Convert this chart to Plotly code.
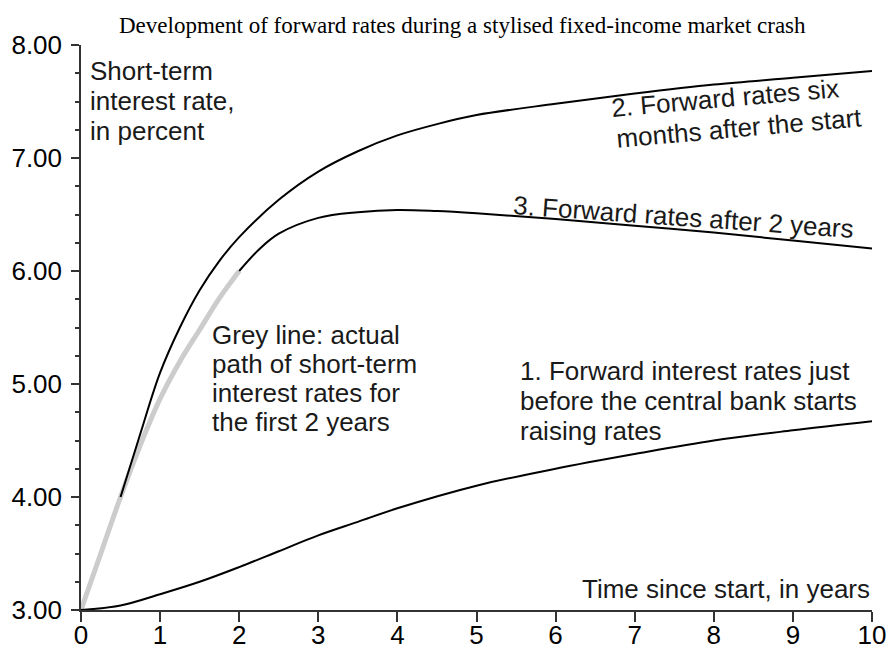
import plotly.graph_objects as go

# Curve 1: forward rates just before the central bank starts raising rates
x1 = [0, 0.5, 1, 1.5, 2, 2.5, 3, 3.5, 4, 5, 6, 7, 8, 9, 10]
y1 = [3.00, 3.04, 3.14, 3.25, 3.38, 3.52, 3.66, 3.78, 3.90, 4.10, 4.25, 4.38, 4.50, 4.59, 4.67]

# Curve 2: forward rates six months after the start
x2 = [0.5, 0.75, 1, 1.25, 1.5, 1.75, 2, 2.5, 3, 3.5, 4, 4.5, 5, 6, 7, 8, 9, 10]
y2 = [4.00, 4.56, 5.10, 5.50, 5.83, 6.09, 6.30, 6.63, 6.88, 7.06, 7.20, 7.30, 7.38, 7.48, 7.57, 7.65, 7.71, 7.77]

# Curve 3: forward rates after 2 years
x3 = [2, 2.25, 2.5, 3, 3.5, 4, 4.5, 5, 6, 7, 8, 9, 10]
y3 = [6.00, 6.19, 6.33, 6.47, 6.52, 6.54, 6.53, 6.51, 6.46, 6.40, 6.34, 6.27, 6.20]

# Grey line: actual short-term rate path for first 2 years
xg = [0, 0.25, 0.5, 0.75, 1, 1.25, 1.5, 1.75, 2]
yg = [3.00, 3.50, 4.00, 4.46, 4.87, 5.20, 5.48, 5.76, 6.00]

x_ticks = list(range(0, 11))
y_ticks = [3, 4, 5, 6, 7, 8]

FONT = "Liberation Sans, Arial, Helvetica, sans-serif"
TXT = "#1a1a1a"
FS = 26

W, H = 888, 652
ML, MR, MT, MB = 81, 16, 45, 42
XR, YR = (0, 10), (3, 8)


def xd(px):
    return XR[0] + (px - ML) / (W - ML - MR) * (XR[1] - XR[0])


def yd(py):
    return YR[1] - (py - MT) / (H - MT - MB) * (YR[1] - YR[0])


fig = go.Figure()
fig.add_trace(go.Scatter(x=xg, y=yg, mode="lines", line=dict(color="#cccccc", width=5, shape="spline"),
                         hoverinfo="skip", showlegend=False, cliponaxis=False))
for xs, ys in [(x1, y1), (x2, y2), (x3, y3)]:
    fig.add_trace(go.Scatter(x=xs, y=ys, mode="lines", line=dict(color="black", width=2, shape="spline"),
                             showlegend=False, cliponaxis=False))

fig.update_layout(
    width=W, height=H,
    margin=dict(l=ML, r=MR, t=MT, b=MB),
    paper_bgcolor="white", plot_bgcolor="white",
    font=dict(family=FONT, size=FS, color=TXT),
    xaxis=dict(range=list(XR), tickvals=x_ticks, ticks="outside", ticklen=10, tickwidth=1.5,
               tickcolor="#333", showline=True, linecolor="#333", linewidth=1.5, automargin=False,
               ticklabelstandoff=-9,
               showgrid=False, zeroline=False, tickfont=dict(size=FS, color="black")),
    yaxis=dict(range=list(YR), tickvals=y_ticks, tickformat=".2f", ticks="outside", ticklen=8,
               tickwidth=1.5, tickcolor="#333", showline=True, linecolor="#333", linewidth=1.5,
               automargin=False, ticklabelstandoff=4,
               showgrid=False, zeroline=False, tickfont=dict(size=FS, color="black"),
               minor=dict(dtick=0.25, tick0=3, ticks="outside", ticklen=4, tickwidth=1.5, tickcolor="#333")),
)

# text lines: (text, x_px, baseline_px, xanchor)
BASE_OFF = 9  # baseline -> box middle offset (px)
lines = [
    ("Short-term", 88, 80, "left"),
    ("interest rate,", 88, 110, "left"),
    ("in percent", 88, 140, "left"),
    ("Grey line: actual", 210, 344, "left"),
    ("path of short-term", 210, 373, "left"),
    ("interest rates for", 210, 402, "left"),
    ("the first 2 years", 210, 431, "left"),
    ("1. Forward interest rates just", 518, 380, "left"),
    ("before the central bank starts", 518, 410, "left"),
    ("raising rates", 518, 440, "left"),
    ("Time since start, in years", 872, 598, "right"),
]
for t, px, by, xa in lines:
    fig.add_annotation(x=xd(px), y=yd(by - BASE_OFF), text=t, xanchor=xa, yanchor="middle", xref="x", yref="y",
                       showarrow=False, font=dict(family=FONT, size=FS, color=TXT))

# rotated labels: (text, center_x_px, center_y_px, angle)
rot = [
    ("2. Forward rates six", 725, 98, -5),
    ("months after the start", 739, 128, -5),
    ("3. Forward rates after 2 years", 683, 217, 4),
]
for t, cx, cy, ang in rot:
    fig.add_annotation(x=xd(cx), y=yd(cy), text=t, xanchor="center", yanchor="middle", xref="x", yref="y",
                       textangle=ang, showarrow=False, font=dict(family=FONT, size=FS, color=TXT))

fig.add_annotation(xref="paper", yref="paper", x=(462 - ML) / (W - ML - MR), y=1 + (MT - 26) / (H - MT - MB),
                   text="Development of forward rates during a stylised fixed-income market crash",
                   showarrow=False, xanchor="center", yanchor="middle",
                   font=dict(family="Liberation Serif, Times New Roman, serif", size=23, color="black"))

fig.write_html("out.html", post_script="document.body.style.margin='0';",
               config={"displayModeBar": False})
